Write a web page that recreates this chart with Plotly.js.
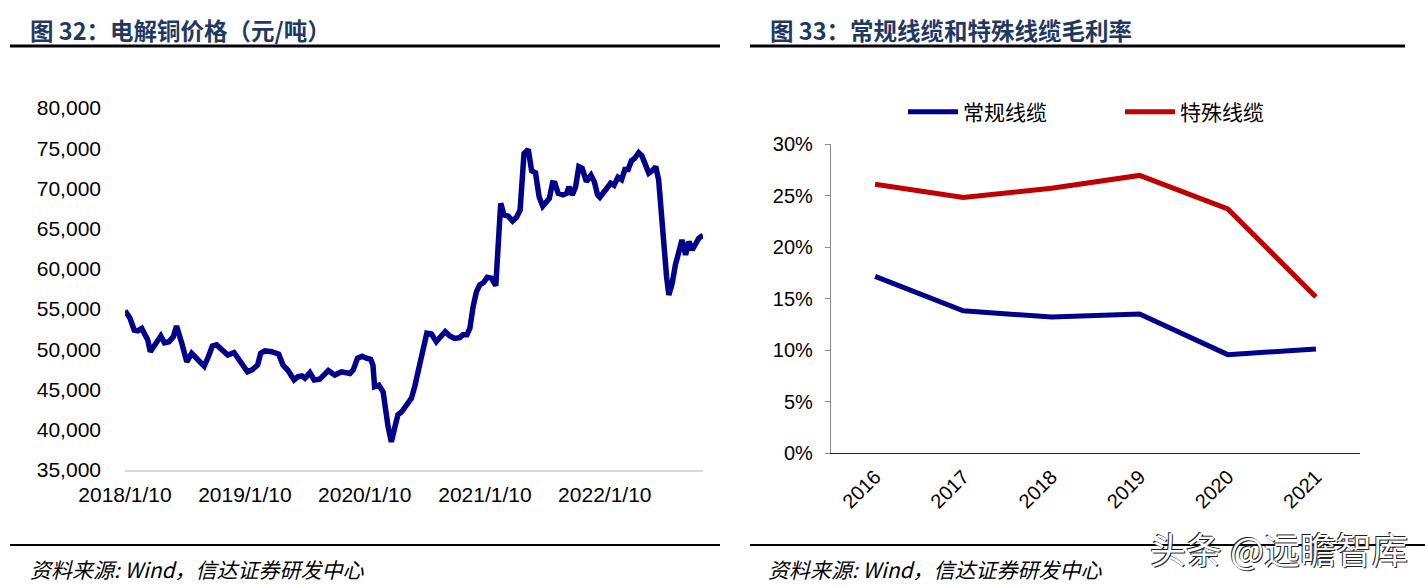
<!DOCTYPE html>
<html><head><meta charset="utf-8">
<script src="https://cdn.plot.ly/plotly-3.0.1.min.js"></script>
<style>html,body{margin:0;padding:0;background:#fff}#chart{width:1425px;height:586px}</style>
</head><body><div id="chart"></div>
<script>
// ---- 图32 电解铜价格（元/吨）----
const copperDates = [
'2018-01-10','2018-01-25','2018-02-07','2018-02-18','2018-03-02','2018-03-14','2018-03-20','2018-03-28','2018-04-11','2018-04-29',
'2018-05-10','2018-05-24','2018-06-06','2018-06-16','2018-07-02','2018-07-17','2018-08-01','2018-08-11','2018-08-26','2018-09-08',
'2018-09-21','2018-10-03','2018-10-16','2018-10-31','2018-11-19','2018-12-08','2018-12-21','2019-01-05','2019-01-18','2019-02-01',
'2019-02-18','2019-02-27','2019-03-12','2019-04-02','2019-04-16','2019-04-23','2019-05-06','2019-05-21','2019-06-09','2019-06-21',
'2019-07-03','2019-07-12','2019-07-27','2019-08-09','2019-08-26','2019-09-05','2019-09-21','2019-10-11','2019-10-31','2019-11-26',
'2019-12-06','2019-12-19','2020-01-02','2020-01-15','2020-01-28','2020-02-04','2020-02-09','2020-02-22','2020-03-06','2020-03-21',
'2020-03-31','2020-04-10','2020-04-20','2020-05-02','2020-05-13','2020-05-26','2020-05-31','2020-06-10','2020-06-20','2020-07-05',
'2020-07-17','2020-07-31','2020-08-15','2020-08-30','2020-09-11','2020-09-25','2020-10-10','2020-10-25','2020-11-04','2020-11-16',
'2020-11-25','2020-12-05','2020-12-15','2020-12-25','2021-01-06','2021-01-17','2021-01-30','2021-02-12','2021-02-27','2021-03-09',
'2021-03-22','2021-04-04','2021-04-16','2021-04-27','2021-05-09','2021-05-22','2021-06-01','2021-06-13','2021-06-24','2021-07-05',
'2021-07-17','2021-07-25','2021-08-04','2021-08-11','2021-08-21','2021-09-05','2021-09-16','2021-09-23','2021-10-03','2021-10-13',
'2021-10-23','2021-11-02','2021-11-15','2021-11-29','2021-12-09','2021-12-19','2021-12-26','2022-01-08','2022-01-18','2022-01-28',
'2022-02-07','2022-02-19','2022-03-02','2022-03-12','2022-03-22','2022-04-01','2022-04-11','2022-04-23','2022-05-03','2022-05-14',
'2022-05-24','2022-06-03','2022-06-14','2022-06-23','2022-07-06','2022-07-17','2022-07-24','2022-08-03','2022-08-13','2022-08-23',
'2022-09-02','2022-09-13','2022-09-23','2022-10-03','2022-10-13','2022-10-23','2022-11-05'];
const copperPrice = [
54800,53900,52400,52300,52600,51600,51200,49700,50500,51650,
50800,50950,51550,52900,50750,48450,49500,49100,48650,47900,
49100,50400,50550,50000,49300,49600,48900,47850,47200,47450,
48050,49500,49800,49700,49500,49400,48050,47400,46200,46600,
46700,46400,47100,46200,46300,46700,47350,46800,47200,47000,
47450,48900,49150,48900,48750,48050,45350,45550,44700,40400,
38500,40200,41850,42250,42950,43500,43900,45350,47200,49500,
52000,51900,50950,51650,52200,51650,51350,51450,51800,51800,
52600,55300,57150,58000,58300,58950,58850,57900,68150,66700,
66550,65950,66400,67300,74350,74850,72200,71950,68950,67800,
68350,68750,70700,70650,69400,69200,69400,70200,69200,70200,
72700,72500,70850,71650,70850,69200,68900,69600,69900,70650,
70400,71400,71100,72350,72350,73450,73750,74450,74050,72700,
71900,72200,72700,71050,63600,59050,56750,58200,60500,62150,
63600,61750,63400,62350,63000,63800,64200];
const copperTickDates = ['2018-01-10','2019-01-10','2020-01-10','2021-01-10','2022-01-10'];
const copperTickText = ['2018/1/10','2019/1/10','2020/1/10','2021/1/10','2022/1/10'];

// ---- 图33 常规线缆和特殊线缆毛利率 ----
const years = ['2016','2017','2018','2019','2020','2021'];
const regularCable = [0.1715,0.138,0.132,0.135,0.0955,0.101];
const specialCable = [0.261,0.248,0.257,0.2695,0.237,0.1515];
const seriesNames = ['常规线缆','特殊线缆'];

const W = 1425, H = 586;
const px = v => v / W;
const py = v => 1 - v / H;
const CJK = '"Noto Sans CJK SC", "Noto Sans", sans-serif';
const LAT = 'Arial, "Liberation Sans", sans-serif';

const traces = [
  {x: copperDates, y: copperPrice, type: 'scatter', mode: 'lines', xaxis: 'x', yaxis: 'y',
   line: {color: '#00008B', width: 5.5}, showlegend: false, hoverinfo: 'x+y'},
  {x: years, y: regularCable, type: 'scatter', mode: 'lines', xaxis: 'x2', yaxis: 'y2', name: seriesNames[0],
   line: {color: '#00008B', width: 5}},
  {x: years, y: specialCable, type: 'scatter', mode: 'lines', xaxis: 'x2', yaxis: 'y2', name: seriesNames[1],
   line: {color: '#C00000', width: 5}}
];

const layout = {
  width: W, height: H, margin: {l: 0, r: 0, t: 0, b: 0},
  paper_bgcolor: '#fff', plot_bgcolor: 'rgba(0,0,0,0)',
  showlegend: true,
  legend: {orientation: 'h', x: px(903), xanchor: 'left', y: py(112), yanchor: 'middle',
           font: {family: CJK, size: 21, color: '#000'}, entrywidth: 152, entrywidthmode: 'pixels',
           itemwidth: 50, bgcolor: 'rgba(0,0,0,0)'},
  xaxis: {type: 'date', domain: [px(125), px(703)], range: ['2018-01-10', '2022-11-05'], anchor: 'y',
          tickvals: copperTickDates, ticktext: copperTickText, ticks: '', showgrid: false, zeroline: false,
          showline: true, linecolor: '#d9d9d9', linewidth: 2, ticklabelstandoff: 5,
          tickfont: {family: LAT, size: 21, color: '#000'}},
  yaxis: {domain: [py(470), py(108)], range: [35000, 80000], dtick: 5000, tick0: 35000, tickformat: ',d',
          anchor: 'x', showgrid: false, zeroline: false, showline: false, ticks: '', ticklabelstandoff: 23,
          tickfont: {family: LAT, size: 21, color: '#000'}},
  xaxis2: {type: 'category', domain: [px(831), px(1360)], range: [-0.5, 5.5], anchor: 'y2',
           showgrid: false, zeroline: false, showline: true, linecolor: '#222', linewidth: 1.2, ticks: '',
           tickangle: -45, ticklabelstandoff: 3, tickfont: {family: LAT, size: 20, color: '#000'}},
  yaxis2: {domain: [py(453), py(144)], range: [0, 0.30], dtick: 0.05, tickformat: '.0%', anchor: 'x2',
           showgrid: false, zeroline: false, showline: true, linecolor: '#888', linewidth: 1.2,
           ticks: 'outside', ticklen: 5, tickcolor: '#888', ticklabelstandoff: 8,
           tickfont: {family: LAT, size: 20, color: '#000'}},
  shapes: [
    {type: 'line', xref: 'paper', yref: 'paper', x0: px(10), x1: px(720), y0: py(46), y1: py(46), line: {color: '#000', width: 3}},
    {type: 'line', xref: 'paper', yref: 'paper', x0: px(750), x1: px(1405), y0: py(46), y1: py(46), line: {color: '#000', width: 3}},
    {type: 'line', xref: 'paper', yref: 'paper', x0: px(10), x1: px(720), y0: py(545), y1: py(545), line: {color: '#000', width: 2}},
    {type: 'line', xref: 'paper', yref: 'paper', x0: px(750), x1: px(1425), y0: py(545), y1: py(545), line: {color: '#000', width: 2}}
  ],
  annotations: [
    {text: '<b>图 32：电解铜价格（元/吨）</b>', xref: 'paper', yref: 'paper', x: px(28), y: py(30), xanchor: 'left', yanchor: 'middle',
     showarrow: false, font: {family: CJK, size: 23.5, color: '#1F3864'}},
    {text: '<b>图 33：常规线缆和特殊线缆毛利率</b>', xref: 'paper', yref: 'paper', x: px(768), y: py(30), xanchor: 'left', yanchor: 'middle',
     showarrow: false, font: {family: CJK, size: 23.5, color: '#1F3864'}},
    {text: '<i>资料来源: Wind，信达证券研发中心</i>', xref: 'paper', yref: 'paper', x: px(28), y: py(586), xanchor: 'left', yanchor: 'bottom',
     showarrow: false, font: {family: CJK, size: 21, color: '#000'}},
    {text: '<i>资料来源: Wind，信达证券研发中心</i>', xref: 'paper', yref: 'paper', x: px(766), y: py(586), xanchor: 'left', yanchor: 'bottom',
     showarrow: false, font: {family: CJK, size: 21, color: '#000'}},
    {text: '头条 @远瞻智库', xref: 'paper', yref: 'paper', x: px(1411), y: py(549), xanchor: 'right', yanchor: 'middle',
     showarrow: false, font: {family: CJK, size: 36, color: '#222'}},
    {text: '头条 @远瞻智库', xref: 'paper', yref: 'paper', x: px(1409), y: py(547), xanchor: 'right', yanchor: 'middle',
     showarrow: false, font: {family: CJK, size: 36, color: '#222'}},
    {text: '头条 @远瞻智库', xref: 'paper', yref: 'paper', x: px(1410), y: py(548), xanchor: 'right', yanchor: 'middle',
     showarrow: false, font: {family: CJK, size: 36, color: '#fff'}}
  ]
};

Plotly.newPlot('chart', traces, layout, {displayModeBar: false, staticPlot: true});
</script>
</body></html>
